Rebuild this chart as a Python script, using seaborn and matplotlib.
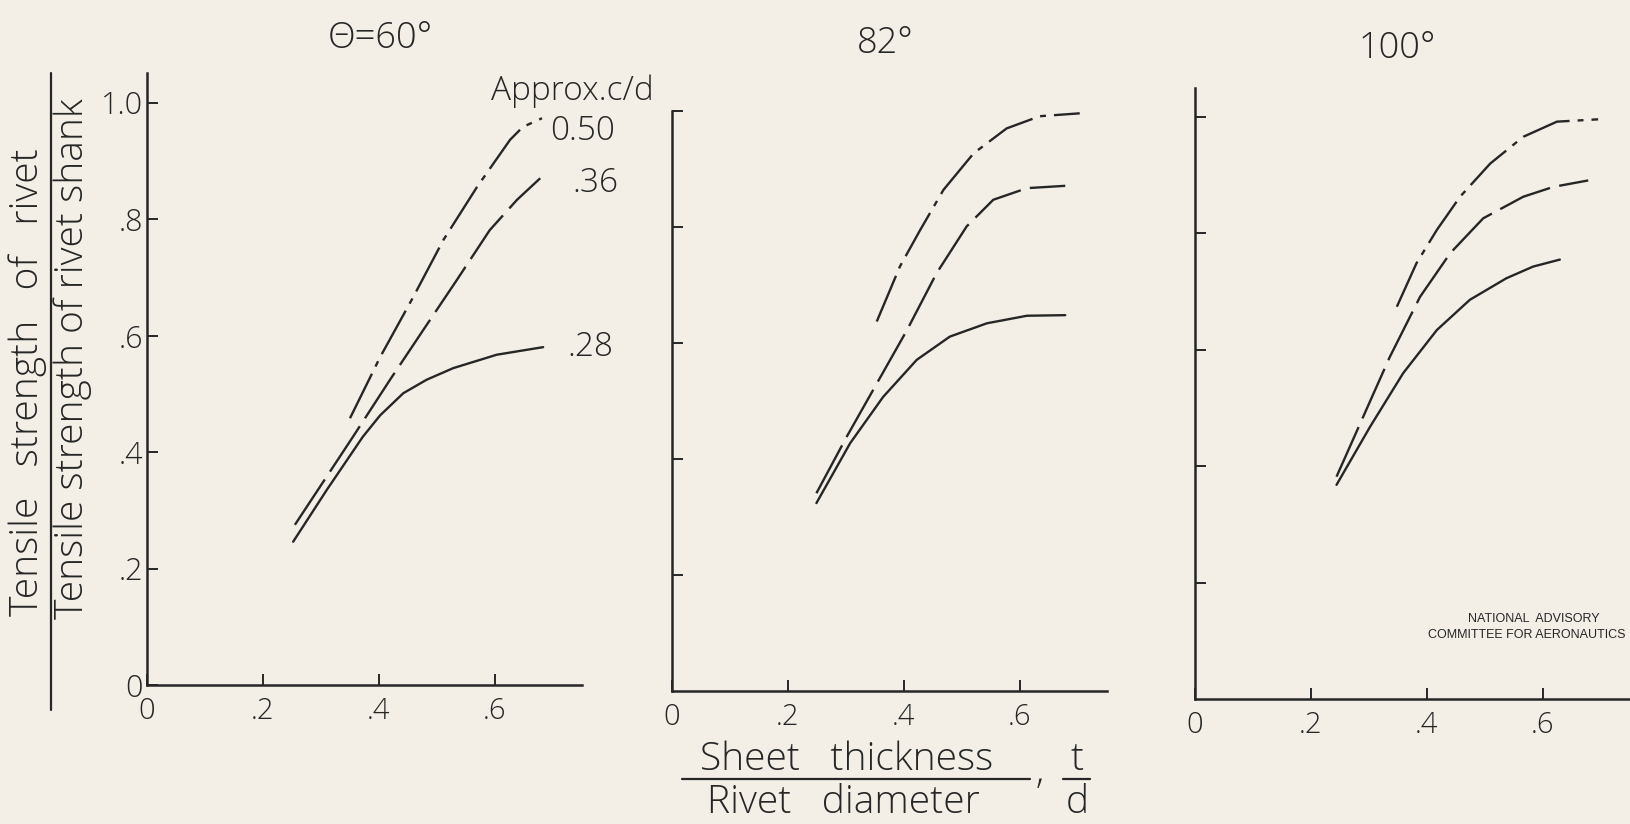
import numpy as np
import pandas as pd
import seaborn as sns
import matplotlib
matplotlib.use("Agg")
import matplotlib.pyplot as plt
from matplotlib.lines import Line2D

# values: t/d vs strength ratio, one list per curve
# theta = 60 deg
t60_50 = [0.350, 0.402, 0.459, 0.511, 0.569, 0.626, 0.648, 0.681]
r60_50 = [0.458, 0.563, 0.666, 0.764, 0.855, 0.936, 0.958, 0.973]
t60_36 = [0.255, 0.304, 0.355, 0.419, 0.476, 0.534, 0.591, 0.638, 0.678]
r60_36 = [0.275, 0.349, 0.426, 0.524, 0.609, 0.695, 0.781, 0.833, 0.870]
t60_28 = [0.252, 0.310, 0.372, 0.402, 0.442, 0.482, 0.528, 0.603, 0.683]
r60_28 = [0.246, 0.335, 0.426, 0.463, 0.501, 0.524, 0.544, 0.567, 0.580]
# theta = 82 deg
t82_50 = [0.353, 0.393, 0.428, 0.468, 0.520, 0.577, 0.634, 0.703]
r82_50 = [0.637, 0.732, 0.795, 0.864, 0.927, 0.970, 0.991, 0.996]
t82_36 = [0.249, 0.301, 0.353, 0.405, 0.456, 0.508, 0.554, 0.612, 0.678]
r82_36 = [0.341, 0.438, 0.530, 0.622, 0.720, 0.801, 0.847, 0.867, 0.871]
t82_28 = [0.249, 0.307, 0.364, 0.422, 0.479, 0.543, 0.612, 0.678]
r82_28 = [0.324, 0.427, 0.507, 0.571, 0.611, 0.634, 0.647, 0.648]
# theta = 100 deg
t100_50 = [0.348, 0.382, 0.417, 0.457, 0.509, 0.566, 0.624, 0.695]
r100_50 = [0.674, 0.749, 0.806, 0.863, 0.920, 0.966, 0.992, 0.996]
t100_36 = [0.244, 0.290, 0.336, 0.388, 0.440, 0.497, 0.566, 0.618, 0.678]
r100_36 = [0.382, 0.485, 0.588, 0.691, 0.766, 0.826, 0.863, 0.880, 0.891]
t100_28 = [0.244, 0.302, 0.359, 0.417, 0.474, 0.537, 0.583, 0.629]
r100_28 = [0.368, 0.468, 0.560, 0.634, 0.686, 0.723, 0.743, 0.755]

panels = ["Θ=60°", "82°", "100°"]
cd_labels = ["0.50", ".36", ".28"]
x_ticks = [0, 0.2, 0.4, 0.6]
x_ticklabels = ["0", ".2", ".4", ".6"]
y_ticks = [0, 0.2, 0.4, 0.6, 0.8, 1.0]
y_ticklabels = ["0", ".2", ".4", ".6", ".8", "1.0"]

curves = {
    ("Θ=60°", "0.50"): (t60_50, r60_50), ("Θ=60°", ".36"): (t60_36, r60_36), ("Θ=60°", ".28"): (t60_28, r60_28),
    ("82°", "0.50"): (t82_50, r82_50), ("82°", ".36"): (t82_36, r82_36), ("82°", ".28"): (t82_28, r82_28),
    ("100°", "0.50"): (t100_50, r100_50), ("100°", ".36"): (t100_36, r100_36), ("100°", ".28"): (t100_28, r100_28),
}
rows = []
for (p, cd), (tt, rr) in curves.items():
    for a, b in zip(tt, rr):
        rows.append({"panel": p, "cd": cd, "t": a, "ratio": b})
df = pd.DataFrame(rows)

paper = "#f3efe7"
ink = "#262626"
sns.set_theme(style="ticks")
plt.rcParams["font.family"] = ["Open Sans", "DejaVu Sans"]
plt.rcParams["font.weight"] = "light"
plt.rcParams["text.color"] = ink
plt.rcParams["xtick.color"] = ink
plt.rcParams["ytick.color"] = ink
plt.rcParams["xtick.labelcolor"] = ink
plt.rcParams["ytick.labelcolor"] = ink
plt.rcParams["axes.edgecolor"] = ink

W, H = 1631, 824
fig = plt.figure(figsize=(W / 100, H / 100), dpi=100, facecolor=paper)

# axes boxes in pixels: origin x, origin y, px per unit (x), px per unit (y)
boxes = [(147, 685, 580, 582.5), (672, 691, 580, 580), (1195, 699, 580, 582)]
dash_map = {"0.50": (21, 3.4, 2.5, 3.4), ".36": (23, 4), ".28": ""}
title_pos = [(380, 48), (885, 53), (1397, 58)]

axes = []
for i, p in enumerate(panels):
    x0, y0, sx, sy = boxes[i]
    ax = fig.add_axes([x0 / W, 1 - y0 / H, 0.75 * sx / W, 1.05 * sy / H])
    ax.set_facecolor("none")
    sub = df[df["panel"] == p]
    sns.lineplot(data=sub, x="t", y="ratio", style="cd", style_order=cd_labels,
                 dashes=dash_map, color=ink, linewidth=1.7, legend=False,
                 errorbar=None, sort=False, ax=ax)
    ax.set_xlim(0, 0.75)
    ax.set_ylim(0, 1.05)
    ax.set_xlabel("")
    ax.set_ylabel("")
    for s in ["top", "right"]:
        ax.spines[s].set_visible(False)
    for s in ["left", "bottom"]:
        ax.spines[s].set_linewidth(1.8)
    ax.set_xticks(x_ticks)
    ax.set_xticklabels(x_ticklabels)
    ax.tick_params(axis="x", direction="in", length=8, width=1.4, labelsize=21, pad=8,
                   labelcolor=ink)
    if i == 0:
        ax.set_yticks(y_ticks)
        ax.set_yticklabels(y_ticklabels)
        ax.tick_params(axis="y", direction="in", length=8, width=1.4, labelsize=22, pad=3,
                       labelcolor=ink)
    else:
        ax.set_yticks(y_ticks[1:])
        ax.tick_params(axis="y", direction="in", length=8, width=1.4, labelleft=False)
    if i == 1:
        ax.spines["left"].set_bounds(0, 1.0)
    tx, ty = title_pos[i]
    fig.text(tx / W, 1 - ty / H, p, ha="center", va="baseline", fontsize=26, color=ink)
    axes.append(ax)

ax1 = axes[0]
ax1.text(0.593, 1.004, "Approx.c/d", ha="left", va="baseline", fontsize=24, clip_on=False, color=ink)
ax1.text(0.695, 0.951, "0.50", ha="left", va="center", fontsize=24, clip_on=False, color=ink)
ax1.text(0.733, 0.862, ".36", ha="left", va="center", fontsize=24, clip_on=False, color=ink)
ax1.text(0.724, 0.580, ".28", ha="left", va="center", fontsize=24, clip_on=False, color=ink)

# y label as a fraction
fig.text(28 / W, 1 - 382 / H, "Tensile   strength   of   rivet", rotation=90,
         ha="center", va="center", fontsize=28, color=ink)
fig.text(73 / W, 1 - 359 / H, "Tensile strength of rivet shank", rotation=90,
         ha="center", va="center", fontsize=28, color=ink)
fig.add_artist(Line2D([51 / W, 51 / W], [1 - 73 / H, 1 - 710 / H],
                      transform=fig.transFigure, color=ink, lw=1.6))

# x label as a fraction
fig.text(847 / W, 1 - 770 / H, "Sheet   thickness", ha="center", va="baseline", fontsize=28, color=ink)
fig.text(843 / W, 1 - 813 / H, "Rivet   diameter", ha="center", va="baseline", fontsize=28, color=ink)
fig.add_artist(Line2D([682 / W, 1030 / W], [1 - 779 / H, 1 - 779 / H],
                      transform=fig.transFigure, color=ink, lw=1.6))
fig.text(1040 / W, 1 - 783 / H, ",", ha="center", va="baseline", fontsize=28, color=ink)
fig.text(1077 / W, 1 - 770 / H, "t", ha="center", va="baseline", fontsize=28, color=ink)
fig.text(1077 / W, 1 - 813 / H, "d", ha="center", va="baseline", fontsize=28, color=ink)
fig.add_artist(Line2D([1063 / W, 1090 / W], [1 - 779 / H, 1 - 779 / H],
                      transform=fig.transFigure, color=ink, lw=1.6))

naca_font = ["Liberation Sans", "DejaVu Sans"]
fig.text(1600 / W, 1 - 622 / H, "NATIONAL  ADVISORY", ha="right", va="baseline",
         fontsize=9, family=naca_font, weight="normal", color=ink)
fig.text(1626 / W, 1 - 638 / H, "COMMITTEE FOR AERONAUTICS", ha="right", va="baseline",
         fontsize=9, family=naca_font, weight="normal", color=ink)

fig.savefig("out.png", dpi=100, facecolor=paper)
